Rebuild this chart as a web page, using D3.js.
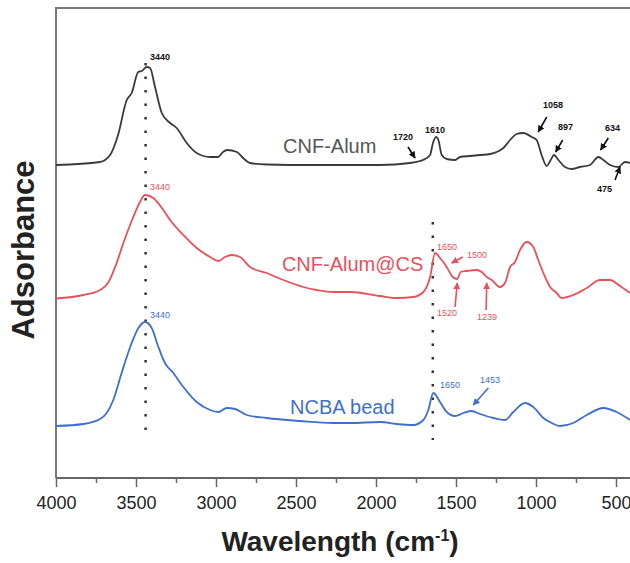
<!DOCTYPE html>
<html><head><meta charset="utf-8">
<script src="https://cdn.jsdelivr.net/npm/d3@7"></script>
<style>body{margin:0;background:#fff}svg{display:block}</style>
</head><body><svg id="c" width="630" height="563"></svg>
<script>
// ---- data (wavenumber cm-1, absorbance a.u., stacked offsets as plotted) ----
const cnfAlumWave = [4000,3725,3662,3612,3558,3527,3486,3464,3433,3412,3381,3339,3287,3246,3183,3121,3037,2987,2956,2931,2869,2831,2787,2681,2400,2100,1975,1787,1725,1706,1662,1644,1625,1610,1589,1558,1506,1475,1412,1350,1287,1246,1204,1162,1121,1079,1027,996,965,933,908,887,860,819,777,725,662,610,579,537,485,444,412];
const cnfAlumAbs  = [313,316,323,343,378,385,406,407,411,410,391,365,355,350,335,325,321,321,326,328,326,320,315,313.5,313,313,313,315,317,318,323,335,341,338,323,319,318,321,322,323,324,326,330,338,344,345,341,338,323,312,318,323,318,311,309,311,313,321,318,313,311,316,315];
const cnfCsWave = [4000,3829,3725,3675,3621,3579,3517,3475,3444,3392,3329,3287,3204,3121,3037,2985,2944,2902,2850,2787,2683,2579,2454,2371,2267,2162,1975,1871,1767,1704,1662,1631,1600,1558,1521,1492,1471,1433,1371,1339,1308,1277,1225,1194,1162,1131,1100,1058,1017,986,954,912,871,840,767,683,600,537,475,412];
const cnfCsAbs  = [179.5,183,188,195,215,235,261,276,283,280,268,258,243,230,221,217,221,223,221,211,205,198,191,188,186,186,182,180,181,186,201,225,220,211,201,199,206,207,208,206,201,198,191,195,211,216,228,236,231,218,205,191,185,180,183,190,198,198,192,185];
const ncbaWave = [4000,3829,3725,3683,3642,3590,3527,3485,3444,3402,3360,3319,3267,3204,3121,3037,2985,2933,2881,2808,2683,2475,2267,2162,1975,1871,1767,1704,1673,1642,1600,1558,1506,1454,1402,1350,1267,1194,1142,1069,1017,954,902,850,767,683,579,496,412];
const ncbaAbs  = [52,54,59,65,78,105,135,150,156,150,131,115,105,91,76,68,66,70,69,63,60,57,55,55,56,54,53,58,68,85,76,66,62,65,67,64,60,58,66,75,71,60,55,52,55,63,70,66,58];

const xTickValues = [4000,3500,3000,2500,2000,1500,1000,500];
const xMinorValues = [3750,3250,2750,2250,1750,1250,750];

const seriesNames = ["CNF-Alum","CNF-Alum@CS","NCBA bead"];
const seriesColors = ["#3a3a3a","#e8505a","#3f6fcc"];
// series name label anchors (wavenumber, absorbance)
const seriesLabelWave = [2581,2588,2537];
const seriesLabelAbs  = [325,207,64];

// peak annotations: [series index, text, textWave, textAbs, arrowFromWave, arrowFromAbs, arrowToWave, arrowToAbs]
const peakNotes = [
  [0,"3440",3412,418,null,null,null,null],
  [0,"1720",1894,338,1800,331,1756,320],
  [0,"1610",1694,345,null,null,null,null],
  [0,"1058",956,370,933,361,986,346],
  [0,"897",862,348,833,338,877,326],
  [0,"634",569,347,548,340,596,328],
  [0,"475",619,286,506,298,475,311],
  [1,"3440",3412,288.5,null,null,null,null],
  [1,"1650",1619,228,null,null,null,null],
  [1,"1500",1431,220,1458,221,1527,215],
  [1,"1520",1619,162,1506,171,1492,195],
  [1,"1239",1369,158,1312,168,1308,195],
  [2,"3440",3412,160,null,null,null,null],
  [2,"1650",1600,90,null,null,null,null],
  [2,"1453",1350,95,1298,90,1392,73]
];
// dotted guide lines: [wavenumber, absFrom, absTo]
const guideLines = [[3440,415,41],[1645,256,38]];

// ---- chart ----
const svg = d3.select("#c");
const mLeft = 56, mTop = 8, mBottom = 478;
const x = d3.scaleLinear().domain([4000,400]).range([mLeft, mLeft + 3600*0.16]);
const y = d3.scaleLinear().domain([0,470]).range([mBottom, mTop]);

// frame
svg.append("line").attr("x1",mLeft).attr("x2",640).attr("y1",mTop).attr("y2",mTop)
  .attr("stroke","#777").attr("stroke-width",2);
svg.append("line").attr("x1",mLeft).attr("x2",mLeft).attr("y1",mTop-1).attr("y2",mBottom)
  .attr("stroke","#777").attr("stroke-width",2);

// x axis
const xAxis = d3.axisBottom(x).tickValues(xTickValues).tickFormat(d3.format("d"))
  .tickSize(9).tickSizeOuter(0).tickPadding(9);
const gx = svg.append("g").attr("transform",`translate(0,${mBottom})`).call(xAxis);
gx.select(".domain").attr("stroke","#666").attr("stroke-width",2).attr("d",`M${mLeft},0H640`);
gx.selectAll(".tick line").attr("stroke","#666").attr("stroke-width",1.5);
gx.selectAll(".tick text").attr("fill","#222").style("font-family","Liberation Sans, Arial, sans-serif").style("font-size","18px");
const gm = svg.append("g").attr("transform",`translate(0,${mBottom})`)
  .call(d3.axisBottom(x).tickValues(xMinorValues).tickSize(5).tickFormat(""));
gm.select(".domain").remove();
gm.selectAll(".tick line").attr("stroke","#666").attr("stroke-width",1.5);

// guide dotted lines
guideLines.forEach(g=>{
  svg.append("line").attr("x1",x(g[0])).attr("x2",x(g[0])).attr("y1",y(g[1])).attr("y2",y(g[2]))
    .attr("stroke","#333").attr("stroke-width",2.5).attr("stroke-dasharray","2.5,11");
});

// curves
const line = d3.line().x(d=>x(d[0])).y(d=>y(d[1])).curve(d3.curveMonotoneX);
const waves = [cnfAlumWave, cnfCsWave, ncbaWave];
const abss = [cnfAlumAbs, cnfCsAbs, ncbaAbs];
waves.forEach((w,i)=>{
  const pts = w.map((v,j)=>[v, abss[i][j]]);
  svg.append("path").attr("d",line(pts)).attr("fill","none")
    .attr("stroke",seriesColors[i]).attr("stroke-width",1.8).attr("stroke-linejoin","round");
});

// series labels
seriesNames.forEach((n,i)=>{
  svg.append("text").attr("x",x(seriesLabelWave[i])).attr("y",y(seriesLabelAbs[i]))
    .attr("fill", i===0 ? "#555" : seriesColors[i])
    .style("font-family","Liberation Sans, Arial, sans-serif").style("font-size","20px").text(n);
});

// arrow markers
const defs = svg.append("defs");
seriesColors.forEach((c,i)=>{
  defs.append("marker").attr("id","ar"+i).attr("viewBox","0 0 10 10").attr("refX",9).attr("refY",5)
    .attr("markerWidth",7).attr("markerHeight",7).attr("markerUnits","userSpaceOnUse").attr("orient","auto")
    .append("path").attr("d","M0,0L10,5L0,10z").attr("fill", i===0 ? "#111" : c);
});

// annotations
peakNotes.forEach(p=>{
  const col = p[0]===0 ? "#111" : seriesColors[p[0]];
  svg.append("text").attr("x",x(p[2])).attr("y",y(p[3])).attr("fill",col)
    .style("font-family","Liberation Sans, Arial, sans-serif").style("font-size","9px")
    .style("font-weight", p[0]===0 ? "bold" : "normal").text(p[1]);
  if (p[4] !== null) {
    svg.append("line").attr("x1",x(p[4])).attr("y1",y(p[5])).attr("x2",x(p[6])).attr("y2",y(p[7]))
      .attr("stroke",col).attr("stroke-width",1.6).attr("marker-end",`url(#ar${p[0]})`);
  }
});

// axis titles
const xt = svg.append("text").attr("x",340).attr("y",551).attr("text-anchor","middle")
  .attr("fill","#222").style("font-family","Liberation Sans, Arial, sans-serif")
  .style("font-size","28px").style("font-weight","bold");
xt.append("tspan").text("Wavelength (cm");
xt.append("tspan").attr("dy",-10).style("font-size","16px").text("-1");
xt.append("tspan").attr("dy",10).text(")");
svg.append("text").attr("transform","translate(34,250) rotate(-90)").attr("text-anchor","middle")
  .attr("fill","#222").style("font-family","Liberation Sans, Arial, sans-serif")
  .style("font-size","31px").style("font-weight","bold").text("Adsorbance");
</script></body></html>
